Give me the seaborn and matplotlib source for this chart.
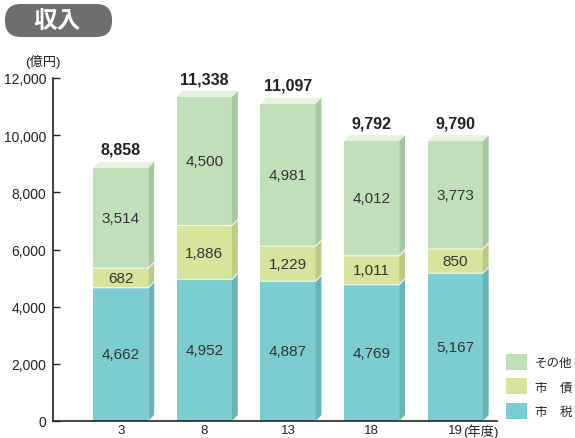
import matplotlib
matplotlib.use('Agg')
import matplotlib.pyplot as plt
from matplotlib.patches import Polygon, FancyBboxPatch, Patch
from matplotlib.ticker import FuncFormatter
import seaborn as sns

sns.set_style('white')
plt.rcParams['font.family'] = ['Liberation Sans', 'Noto Sans CJK JP', 'DejaVu Sans']

years = ['3', '8', '13', '18', '19']
shizei = [4662, 4952, 4887, 4769, 5167]   # 市税
shisai = [682, 1886, 1229, 1011, 850]     # 市債
sonota = [3514, 4500, 4981, 4012, 3773]   # その他
totals = [8858, 11338, 11097, 9792, 9790]

layers = [('市　税', shizei, '#7ccdd1', '#67b4b8'),
          ('市　債', shisai, '#d6e49c', '#bccb82'),
          ('その他', sonota, '#bfe0b8', '#a5c99e')]

fig = plt.figure(figsize=(5.75, 4.39), dpi=100)
ax = fig.add_axes([53 / 575, 17 / 439, 444 / 575, 343 / 439])

# cumulative tops, drawn from the top layer down so lower ones cover
cums = []
run = [0] * len(years)
for name, vals, c, _ in layers:
    run = [a + b for a, b in zip(run, vals)]
    cums.append(list(run))

groups = []
for i in reversed(range(len(layers))):
    n0 = len(ax.patches)
    sns.barplot(x=years, y=cums[i], color=layers[i][2], saturation=1,
                width=0.66, ax=ax, errorbar=None, linewidth=0, zorder=2)
    groups.append((i, ax.patches[n0:]))

dx, dy = 0.07, 210
for i, patches in groups:
    name, vals, c, side = layers[i]
    for j, p in enumerate(patches):
        x0 = p.get_x()
        x1 = x0 + p.get_width()
        hi = cums[i][j]
        lo = hi - vals[j]
        ax.add_patch(Polygon([(x1, lo), (x1 + dx, lo + dy), (x1 + dx, hi + dy), (x1, hi)],
                             closed=True, fc=side, ec='none', zorder=3))
        if i < len(layers) - 1:
            ax.plot([x0, x1, x1 + dx], [hi, hi, hi + dy], color='white', lw=0.9,
                    alpha=0.8, zorder=4)
        else:
            ax.add_patch(Polygon([(x0, hi), (x0 + dx, hi + dy), (x1 + dx, hi + dy), (x1, hi)],
                                 closed=True, fc='#e4f2e0', ec='none', zorder=3))
        ax.text(x0 + p.get_width() / 2, lo + vals[j] / 2, f'{vals[j]:,}',
                ha='center', va='center', fontsize=11, color='#333333', zorder=5)

for j, t in enumerate(totals):
    ax.text(j, t + 380, f'{t:,}', ha='center', va='bottom', fontsize=11.5,
            fontweight='bold', color='#222222')

ax.set_xlim(-0.81, 4.50)
ax.set_ylim(0, 12000)
ax.set_yticks(range(0, 12001, 2000))
ax.yaxis.set_major_formatter(FuncFormatter(lambda v, _: f'{int(v):,}'))
ax.tick_params(axis='y', direction='in', length=5, width=1, labelsize=10,
               colors='#222222', left=True, pad=5)
ax.tick_params(axis='x', length=0, labelsize=9.5, colors='#222222', pad=2)
ax.set_xticks(range(len(years)))
ax.set_xticklabels(years)
ax.set_xlabel('')
ax.set_ylabel('')
for s in ['top', 'right']:
    ax.spines[s].set_visible(False)
for s in ['left', 'bottom']:
    ax.spines[s].set_color('#222222')
    ax.spines[s].set_linewidth(1.2)

ax.annotate('(年度)', xy=(4, 0), xycoords=('data', 'axes fraction'),
            xytext=(6, -2), textcoords='offset points', ha='left', va='top',
            fontsize=9.5, color='#222222')

handles = [Patch(fc=c, ec='none', label=name) for name, _, c, _ in reversed(layers)]
ax.legend(handles=handles, loc='lower left', bbox_to_anchor=(1.02, 0.006),
          frameon=False, fontsize=9, handlelength=1.68, handleheight=1.6,
          labelspacing=0.68, handletextpad=0.64, borderaxespad=0, borderpad=0)

# overlay in pixel units for the title and unit label
ov = fig.add_axes([0, 0, 1, 1], zorder=-1)
ov.set_xlim(0, 575)
ov.set_ylim(439, 0)
ov.axis('off')
ov.add_patch(FancyBboxPatch((5, 5), 107, 33, boxstyle='round,pad=0,rounding_size=16',
                            fc='#6e6e6e', ec='none'))
ov.text(57, 22, '収入', color='white', fontsize=17, fontweight='bold',
        ha='center', va='center')
ov.text(43, 62, '(億円)', color='#222222', fontsize=9.5, ha='center', va='center')

fig.savefig('out.png', dpi=100)
